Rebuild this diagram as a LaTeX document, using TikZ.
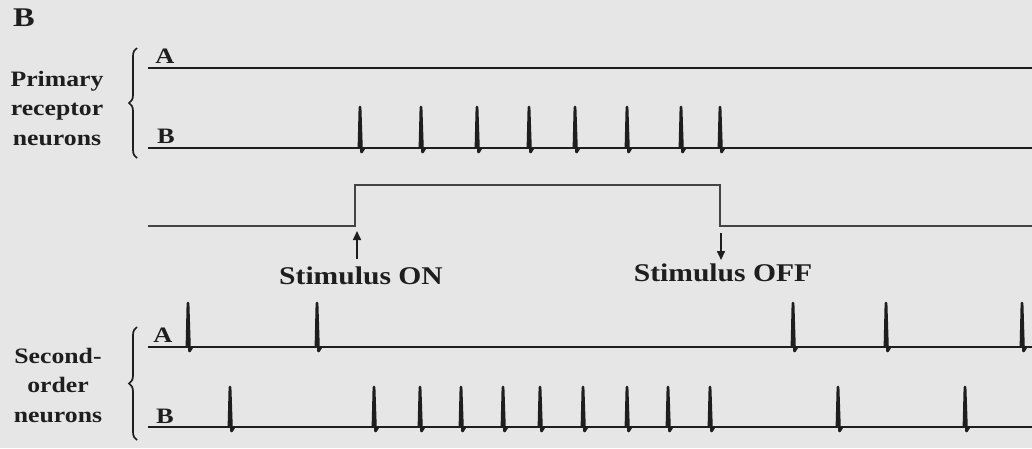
\documentclass[tikz,border=0pt]{standalone}
\usepackage{fontspec}
\setmainfont{Liberation Serif}
\usetikzlibrary{arrows.meta,decorations.pathreplacing}
\definecolor{bg}{HTML}{E6E6E6}
\definecolor{ink}{HTML}{1E1E1E}
\definecolor{stim}{HTML}{444444}
\begin{document}
\begin{tikzpicture}[x=1pt,y=-1pt,
  trace/.style={draw=ink,line width=2.3pt},
  spk/.style={draw=ink,line width=2.8pt,line join=round},
  stimtrace/.style={draw=stim,line width=2.8pt},
  lbl/.style={font=\bfseries\fontsize{22}{30}\selectfont,text=ink,xscale=1.2,inner sep=0pt},
  grp/.style={font=\bfseries\fontsize{22}{29.5}\selectfont,text=ink,xscale=1.17,align=center,inner sep=0pt},
  stimlbl/.style={font=\bfseries\fontsize{25.5}{28}\selectfont,text=ink,xscale=1.16,inner sep=0pt},
  brc/.style={draw=ink,line width=1.7pt,decorate,decoration={brace,amplitude=8pt}},
  arr/.style={draw=ink,line width=1.6pt,-{Triangle[length=9pt,width=8pt]}}]
\fill[bg] (0,0) rectangle (1032,448);
\useasboundingbox (0,0) rectangle (1032,448);

% panel letter
\node[font=\bfseries\fontsize{27}{30}\selectfont,text=ink,xscale=1.2,inner sep=0pt] (panel) at (24,18) {B};

% primary receptor neurons
\node[grp] (prim) at (57,108) {Primary\\receptor\\neurons};
\draw[brc] (137,158) -- (137,48);
\node[lbl] (pa) at (165,56) {A};
\node[lbl] (pb) at (166,136) {B};
\coordinate (paS) at (148,68); \coordinate (paE) at (1032,68);
\coordinate (pbS) at (148,148); \coordinate (pbE) at (1032,148);
\draw[trace] (paS) -- (paE);
\draw[trace] (pbS) -- (pbE);
\foreach \x in {360,421,477,529,575,627,681,720}
  \draw[spk] ({\x-1},148) -- (\x,107) -- ({\x+1.5},152) -- ({\x+4},148);

% stimulus trace
\coordinate (s0) at (148,226);
\coordinate (up0) at (355,226);
\coordinate (up1) at (355,185);
\coordinate (dn1) at (720,185);
\coordinate (dn0) at (720,226);
\coordinate (s1) at (1032,226);
\draw[stimtrace,line join=miter] (s0) -- (up0) -- (up1) -- (dn1) -- (dn0) -- (s1);
\node[stimlbl] (on) at (361,276) {Stimulus ON};
\node[stimlbl] (off) at (723,273) {Stimulus OFF};
\coordinate (onTail) at (357,259);
\coordinate (onTip) at (357,231);
\coordinate (offTail) at (721,233);
\coordinate (offTip) at (721,260);
\draw[arr] (onTail) -- (onTip);
\draw[arr] (offTail) -- (offTip);

% second-order neurons
\node[grp] (sec) at (58,385) {Second-\\order\\neurons};
\draw[brc] (137,440) -- (137,327);
\node[lbl] (sa) at (163,335) {A};
\node[lbl] (sb) at (165,416) {B};
\coordinate (saS) at (148,347); \coordinate (saE) at (1032,347);
\coordinate (sbS) at (148,427); \coordinate (sbE) at (1032,427);
\draw[trace] (saS) -- (saE);
\draw[trace] (sbS) -- (sbE);
\foreach \x in {188,317,793,886,1022}
  \draw[spk] ({\x-1},347) -- (\x,303) -- ({\x+1.5},351) -- ({\x+4},347);
\foreach \x in {230,374,420,461,503,540,583,627,668,710,838,965}
  \draw[spk] ({\x-1},427) -- (\x,387) -- ({\x+1.5},431) -- ({\x+4},427);
\end{tikzpicture}
\end{document}
